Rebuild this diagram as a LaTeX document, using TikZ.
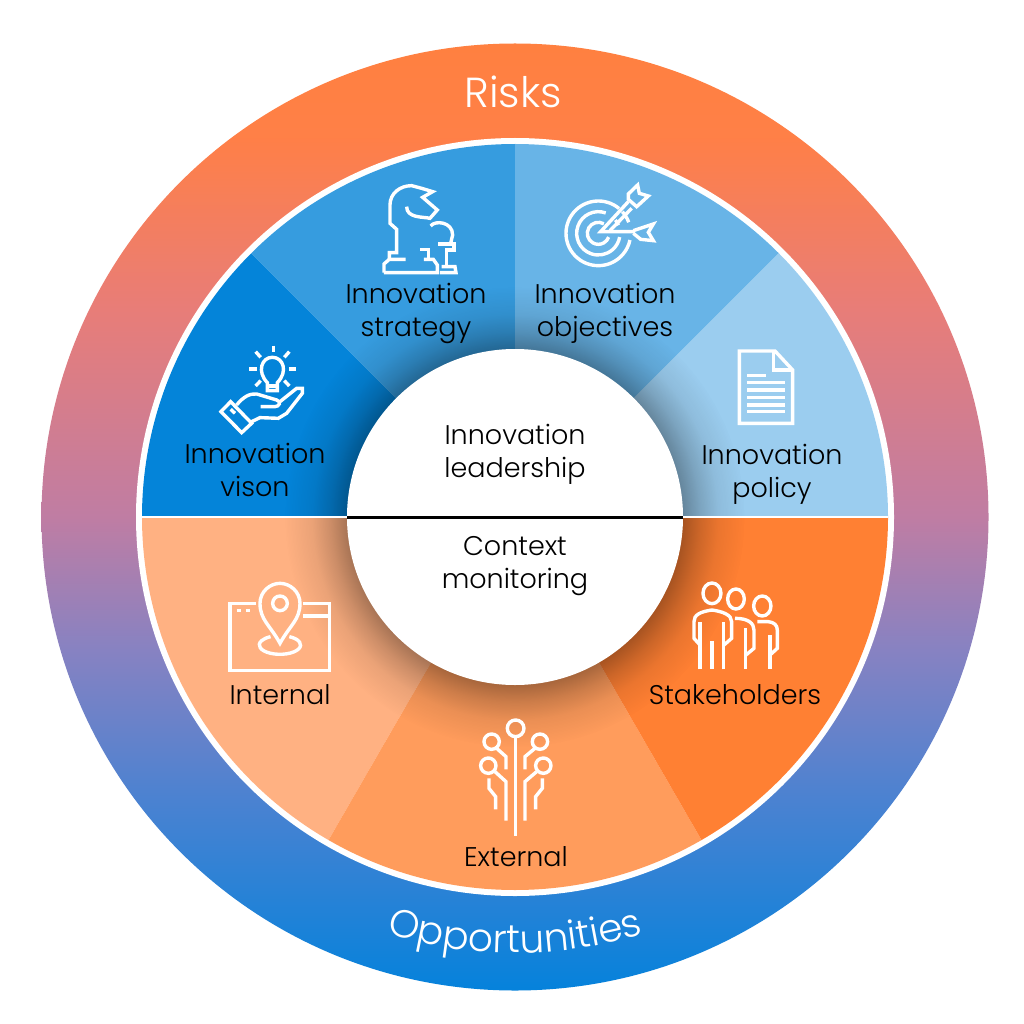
\documentclass[tikz,border=0pt]{standalone}
\usepackage{fontspec}
\setmainfont{Poppins Light}
\usetikzlibrary{fadings, decorations.text}

\definecolor{visioncol}{RGB}{4,132,217}
\definecolor{strategycol}{RGB}{54,156,223}
\definecolor{objectivescol}{RGB}{104,180,231}
\definecolor{policycol}{RGB}{155,205,239}
\definecolor{internalcol}{RGB}{255,177,130}
\definecolor{externalcol}{RGB}{255,156,92}
\definecolor{stakeholderscol}{RGB}{255,128,51}

\pgfdeclareverticalshading{ringshade}{100bp}{
	rgb(0bp)=(.02,.51,.86);
	rgb(25bp)=(.02,.51,.86);
	rgb(35bp)=(.29,.51,.82);
	rgb(43bp)=(.53,.51,.76);
	rgb(50bp)=(.75,.49,.64);
	rgb(61bp)=(.91,.49,.47);
	rgb(70bp)=(1,.50,.28);
	rgb(75bp)=(1,.50,.25);
	rgb(100bp)=(1,.50,.25)}
\pgfdeclareradialshading{haloshade}{\pgfpoint{0bp}{0bp}}{
	rgb(0bp)=(.34,.34,.34);
	rgb(18.2bp)=(.34,.34,.34);
	rgb(20bp)=(.2,.2,.2);
	rgb(22bp)=(.08,.08,.08);
	rgb(25bp)=(0,0,0);
	rgb(50bp)=(0,0,0)}
\pgfdeclarefading{halofade}{\pgfuseshading{haloshade}}

\begin{document}
\begin{tikzpicture}[
	x=1pt, y=-1pt,
	tag/.style={align=center, font=\fontsize{27}{33}\selectfont, text=black},
	icon/.style={draw=white, line width=3.4pt},
	hub/.style={circle, fill=white, minimum size=336pt, inner sep=0}
	]
	\useasboundingbox (0,0) rectangle (1024,1024);
	\fill[white] (0,0) rectangle (1024,1024);
	\coordinate (c) at (515,517);
	
	\shade[shading=ringshade] (c) circle (473.5);
	\fill[white] (c) circle (379);
	\foreach \col/\from/\to in {visioncol/180/225, strategycol/225/270, objectivescol/270/315, policycol/315/360, internalcol/120/180, externalcol/60/120, stakeholderscol/0/60}
	\fill[\col] (c) -- ++(\from:373) arc[start angle=\from, end angle=\to, radius=373] -- cycle;
	\fill[black, path fading=halofade] (c) circle (230);
	\coordinate (rimW) at (142,517);
	\coordinate (rimE) at (888,517);
	\draw[white, line width=2pt] (rimW) -- (rimE);
	
	\node[hub] (hub) at (c) {};
	\draw[black, line width=3pt] (hub.west) -- (hub.east);
	
	\node[text=white, font=\fontsize{42}{42}\selectfont] (risks) at (513,92) {Risks};
	\path[decorate, decoration={text along path, text align=center, text={|\fontsize{39}{39}\selectfont\color{white}|Opportunities}}] ([shift={(135:436)}]c) arc[start angle=135, end angle=45, radius=436];
	
	\node[tag] (strategy) at (416,313) {Innovation\\strategy};
	\node[tag] (objectives) at (605,313) {Innovation\\objectives};
	\node[tag] (vision) at (255,470) {Innovation\\vison};
	\node[tag] (policy) at (772,474) {Innovation\\policy};
	\node[tag] (leadership) at (515,454) {Innovation\\leadership};
	\node[tag] (context) at (515,566) {Context\\monitoring};
	\node[tag] (internal) at (280,695) {Internal};
	\node[tag] (external) at (516,857) {External};
	\node[tag] (stakeholders) at (735,695) {Stakeholders};
	
	\begin{scope}[shift={(140,140)}, scale=.3333]
	\draw[icon] (732,398) -- (892,398) -- (892,375) -- (880,358) -- (852,358);
	\draw[icon] (732,398) -- (732,372) -- (748,358) -- (797,358);
	\draw[icon] (748,358) -- (748,338) -- (770,338) -- (770,268) -- (750,250) -- (750,195) .. controls (750,160) and (780,137) .. (815,137) -- (845,145) -- (878,155) -- (848,172) -- (892,210) -- (870,235) .. controls (850,230) and (800,235) .. (800,200);
	\draw[icon] (840,328) -- (865,328) -- (865,358);
	\draw[icon] (872,258) .. controls (885,240) and (938,245) .. (938,285) -- (932,310);
	\draw[icon] (895,312) -- (942,312) -- (942,330) -- (920,330) -- (920,378);
	\draw[icon] (900,398) -- (948,398) -- (945,380) -- (905,380);
	
	\foreach \xa/\ya/\xb/\yb in {400/617/400/637, 347/635/362/652, 448/635/433/652, 328/687/350/687, 447/687/468/687, 347/738/362/722, 433/722/448/738}
	\draw[icon] (\xa,\ya) -- (\xb,\yb);
	\draw[icon] (382,728) .. controls (350,695) and (365,652) .. (397,652) .. controls (430,652) and (445,695) .. (412,728) -- (412,752) -- (382,752) -- cycle;
	\draw[icon] (382,738) -- (412,738);
	\draw[icon] (243,815) -- (272,785) -- (335,850) -- (305,878) -- cycle;
	\draw[icon] (272,808) -- (285,820);
	\draw[icon] (290,795) .. controls (310,770) and (330,760) .. (350,762) -- (410,780) .. controls (425,785) and (418,800) .. (405,800) -- (362,800);
	\draw[icon] (420,785) -- (470,745) -- (487,745) -- (487,760) -- (440,820) -- (415,835) -- (360,833) -- (335,845);
	\end{scope}
	
	\begin{scope}[shift={(510,140)}, scale=.3333]
	\draw[icon] ([shift={(-50:97)}]265,280) arc[start angle=-50, end angle=-348, radius=97];
	\draw[icon] ([shift={(-70:65)}]265,280) arc[start angle=-70, end angle=-350, radius=65];
	\draw[icon] ([shift={(-60:33)}]265,280) arc[start angle=-60, end angle=-340, radius=33];
	\draw[icon] ([shift={(-42:97)}]265,280) arc[start angle=-42, end angle=-20, radius=97];
	\draw[icon] ([shift={(-38:65)}]265,280) arc[start angle=-38, end angle=-22, radius=65];
	\draw[icon] (375,275) -- (272,275) -- (355,185);
	\draw[icon] (300,272) -- (365,205);
	\draw[icon] (355,162) -- (383,135) -- (388,160) -- (415,168) -- (380,200) -- (355,178) -- cycle;
	\draw[icon] (370,272) -- (430,252) -- (415,277) -- (430,302) -- (392,298) -- (370,280);
	
	\draw[icon] (688,633) -- (795,633) -- (848,690) -- (848,850) -- (688,850) -- cycle;
	\draw[icon] (790,633) -- (790,690) -- (848,690);
	\draw[icon] (712,707) -- (768,707);
	\foreach \ya in {728,750,772,795,815}
	\draw[icon] (712,\ya) -- (825,\ya);
	\end{scope}
	
	\begin{scope}[shift={(200,560)}, scale=.3333]
	\draw[icon] (168,130) -- (90,130) -- (90,332) -- (388,332) -- (388,130) -- (308,130);
	\draw[icon] (310,168) -- (388,168);
	\draw[icon] (110,152) -- (122,152);
	\draw[icon] (137,152) -- (149,152);
	\draw[icon] (240,250) .. controls (210,195) and (180,180) .. (180,130) .. controls (180,95) and (210,70) .. (240,70) .. controls (270,70) and (300,95) .. (300,130) .. controls (300,180) and (270,195) .. (240,250) -- cycle;
	\draw[icon] (240,130) circle (22);
	\draw[icon] (268,230) arc[x radius=62, y radius=28, start angle=-63, end angle=243];
	
	\draw[icon] (947,505) circle (25);
	\draw[icon] (875,545) circle (23);
	\draw[icon] (1020,545) circle (23);
	\draw[icon] (865,617) circle (23);
	\draw[icon] (1030,617) circle (23);
	\draw[icon] (947,530) -- (947,828);
	\draw[icon] (890,565) -- (918,590) -- (918,628);
	\draw[icon] (1005,565) -- (975,590) -- (975,628);
	\draw[icon] (885,635) -- (918,665) -- (918,782);
	\draw[icon] (1010,635) -- (975,665) -- (975,782);
	\draw[icon] (867,655) -- (867,685) -- (887,710) -- (887,748);
	\draw[icon] (1027,655) -- (1027,685) -- (1007,710) -- (1007,748);
	\end{scope}
	
	\begin{scope}[shift={(470,560)}, scale=.3333]
	\draw[icon] (726,100) circle[x radius=27, y radius=31];
	\draw[icon] (798,117) circle[x radius=25, y radius=30];
	\draw[icon] (877,138) circle[x radius=26, y radius=30];
	\draw[icon] (690,328) -- (690,185);
	\draw[icon] (760,328) -- (760,185);
	\draw[icon] (726,243) -- (726,328);
	\draw[icon] (690,255) -- (672,235) -- (672,185) .. controls (672,165) and (690,155) .. (726,150) .. controls (760,155) and (785,165) .. (785,185) -- (785,235) -- (762,255);
	\draw[icon] (795,175) .. controls (835,175) and (852,190) .. (852,210) -- (852,265) -- (828,285);
	\draw[icon] (826,205) -- (826,328);
	\draw[icon] (862,185) -- (895,185) .. controls (912,187) and (922,195) .. (922,210) -- (922,265) -- (900,285);
	\draw[icon] (900,225) -- (900,328);
	\end{scope}
\end{tikzpicture}
\end{document}
